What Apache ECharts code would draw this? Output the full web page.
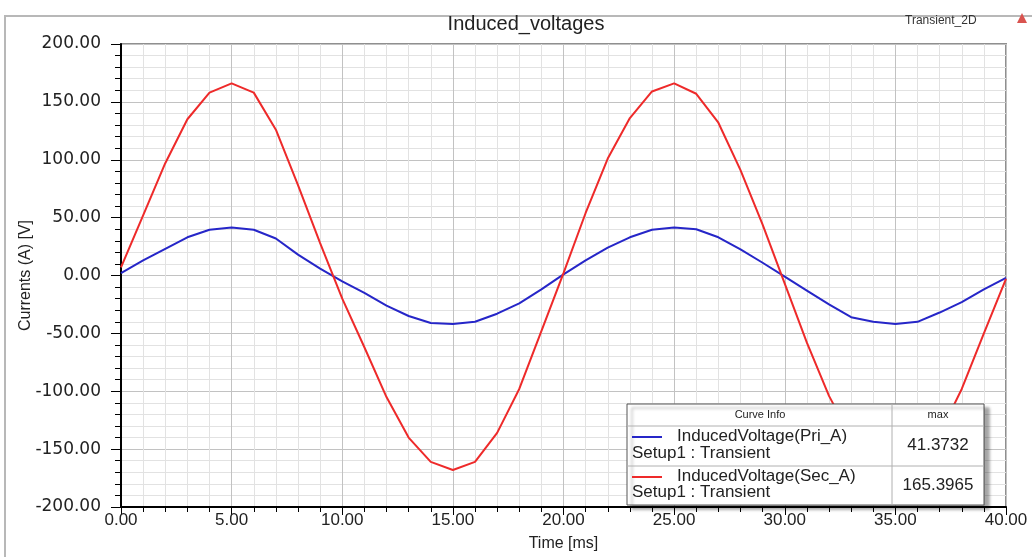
<!DOCTYPE html>
<html>
<head>
    <meta charset="utf-8">
    <title>Induced_voltages</title>
    <script src="https://cdn.jsdelivr.net/npm/echarts@6/dist/echarts.min.js"></script>
    <style>
        html, body {
            margin: 0;
            padding: 0;
            background: #ffffff;
        }

        #main {
            width: 1032px;
            height: 557px;
        }
    </style>
</head>
<body>
<div id="main"></div>
<script>
    // time axis in ms, one sample per ms
    var timeMs = [0, 1, 2, 3, 4, 5, 6, 7, 8, 9, 10, 11, 12, 13, 14, 15, 16, 17, 18, 19, 20,
        21, 22, 23, 24, 25, 26, 27, 28, 29, 30, 31, 32, 33, 34, 35, 36, 37, 38, 39, 40];

    // InducedVoltage(Pri_A)
    var priA = [2, 13, 23, 33, 39.5, 41.4, 39.5, 32, 18, 6, -5, -15, -26, -35, -41, -42, -40, -33, -24, -12, 1,
        13, 24, 33, 39.5, 41.4, 40, 33, 22.5, 11, -1, -13, -25, -36, -40, -42, -40, -32, -23, -12, -2];

    // InducedVoltage(Sec_A)
    var secA = [7, 52, 97, 135, 158, 166, 158, 126, 78, 28, -20, -62, -105, -140, -161, -168, -161, -136, -98, -48, 2,
        54, 101, 136, 159, 166, 157, 132, 91, 44, -7, -58, -104, -140, -161, -167, -160, -137, -98, -50, -3];

    var curveNames = ['InducedVoltage(Pri_A)', 'InducedVoltage(Sec_A)'];
    var curveMax = ['41.3732', '165.3965'];
    var setupName = 'Setup1 : Transient';

    var fontFamily = '"Liberation Sans", Arial, sans-serif';
    var wideFont = '"DejaVu Sans", sans-serif';

    function pairs(values) {
        return timeMs.map(function (t, i) {
            return [t, values[i]];
        });
    }

    function boxText(x, y, text, size, align) {
        return {
            type: 'text', x: x, y: y, z: 101,
            style: {
                text: text, fontSize: size, fontFamily: fontFamily, fill: '#222',
                align: align || 'left', verticalAlign: 'middle'
            }
        };
    }

    function boxLine(x1, y1, x2, y2, color, width) {
        return {
            type: 'line', z: 101,
            shape: {x1: x1, y1: y1, x2: x2, y2: y2},
            style: {stroke: color, lineWidth: width}
        };
    }

    var chart = echarts.init(document.getElementById('main'));

    /**
     * curve info box, drawn on top of the curves
     */
    var infoBox = [
        {
            type: 'rect', z: 100,
            shape: {x: 627, y: 404, width: 357, height: 101},
            style: {
                fill: '#ffffff', stroke: '#555555', lineWidth: 1,
                shadowColor: 'rgba(0,0,0,0.35)', shadowOffsetX: 5, shadowOffsetY: 4, shadowBlur: 3
            }
        },
        boxLine(627, 426, 984, 426, '#b0b0b0', 1),
        boxLine(627, 466, 984, 466, '#b0b0b0', 1),
        boxLine(892, 404, 892, 505, '#b0b0b0', 1),
        boxText(760, 415, 'Curve Info', 11, 'center'),
        boxText(938, 415, 'max', 11, 'center'),
        // row 1
        boxLine(632, 437, 662, 437, '#2626c8', 2),
        boxText(677, 436, curveNames[0], 17),
        boxText(632, 453, setupName, 17),
        boxText(938, 445, curveMax[0], 17, 'center'),
        // row 2
        boxLine(632, 477, 662, 477, '#ee2a2a', 2),
        boxText(677, 476, curveNames[1], 17),
        boxText(632, 492, setupName, 17),
        boxText(938, 485, curveMax[1], 17, 'center')
    ];

    var option = {
        animation: false,
        backgroundColor: '#ffffff',
        textStyle: {fontFamily: fontFamily},
        title: {
            text: 'Induced_voltages',
            left: 521,
            textAlign: 'center',
            top: 9,
            textStyle: {fontSize: 20, fontWeight: 'normal', color: '#222', fontFamily: fontFamily}
        },
        graphic: [
            {
                type: 'polyline', z: 0,
                shape: {points: [[5, 557], [5, 16], [1032, 16]]},
                style: {stroke: '#b8b8b8', lineWidth: 2, fill: null}
            },
            {
                type: 'text', x: 905, y: 21,
                style: {text: 'Transient_2D', fontSize: 12, fontFamily: fontFamily, fill: '#333', verticalAlign: 'middle'}
            },
            {
                type: 'polygon',
                shape: {points: [[1017, 23], [1027, 23], [1022, 13]]},
                style: {fill: '#d9534f'}
            }
        ].concat(infoBox),
        grid: {
            left: 121,
            right: 26,
            top: 44,
            bottom: 49,
            show: true,
            borderColor: '#8f8f8f',
            borderWidth: 2
        },
        xAxis: {
            type: 'value',
            min: 0,
            max: 40,
            interval: 5,
            name: 'Time [ms]',
            nameLocation: 'middle',
            nameGap: 29,
            nameTextStyle: {fontSize: 16, color: '#222'},
            axisLine: {show: true, onZero: false, lineStyle: {color: '#000', width: 2}},
            axisTick: {show: true, length: 8, lineStyle: {color: '#000'}},
            minorTick: {show: true, splitNumber: 5, length: 5, lineStyle: {color: '#000'}},
            splitLine: {show: true, lineStyle: {color: '#c2c2c2', width: 1}},
            minorSplitLine: {show: true, lineStyle: {color: '#e2e2e2', width: 1}},
            axisLabel: {
                fontSize: 17,
                color: '#222',
                margin: 5,
                formatter: function (v) {
                    return v.toFixed(2);
                }
            }
        },
        yAxis: {
            type: 'value',
            min: -200,
            max: 200,
            interval: 50,
            name: 'Currents (A) [V]',
            nameLocation: 'middle',
            nameGap: 87,
            nameMoveOverlap: false,
            nameTextStyle: {fontSize: 16, color: '#222'},
            axisLine: {show: true, onZero: false, lineStyle: {color: '#000', width: 2}},
            axisTick: {show: true, length: 10, lineStyle: {color: '#000'}},
            minorTick: {show: true, splitNumber: 5, length: 6, lineStyle: {color: '#000'}},
            splitLine: {show: true, lineStyle: {color: '#c2c2c2', width: 1}},
            minorSplitLine: {show: true, lineStyle: {color: '#e2e2e2', width: 1}},
            axisLabel: {
                fontSize: 17,
                fontFamily: wideFont,
                color: '#222',
                margin: 20,
                formatter: function (v) {
                    return v.toFixed(2);
                }
            }
        },
        series: [
            {
                name: curveNames[0],
                type: 'line',
                data: pairs(priA),
                symbol: 'none',
                lineStyle: {color: '#2626c8', width: 2},
                itemStyle: {color: '#2626c8'}
            },
            {
                name: curveNames[1],
                type: 'line',
                data: pairs(secA),
                symbol: 'none',
                lineStyle: {color: '#ee2a2a', width: 2},
                itemStyle: {color: '#ee2a2a'}
            }
        ]
    };

    chart.setOption(option);

    window.onresize = function () {
        chart.resize();
    };
</script>
</body>
</html>
